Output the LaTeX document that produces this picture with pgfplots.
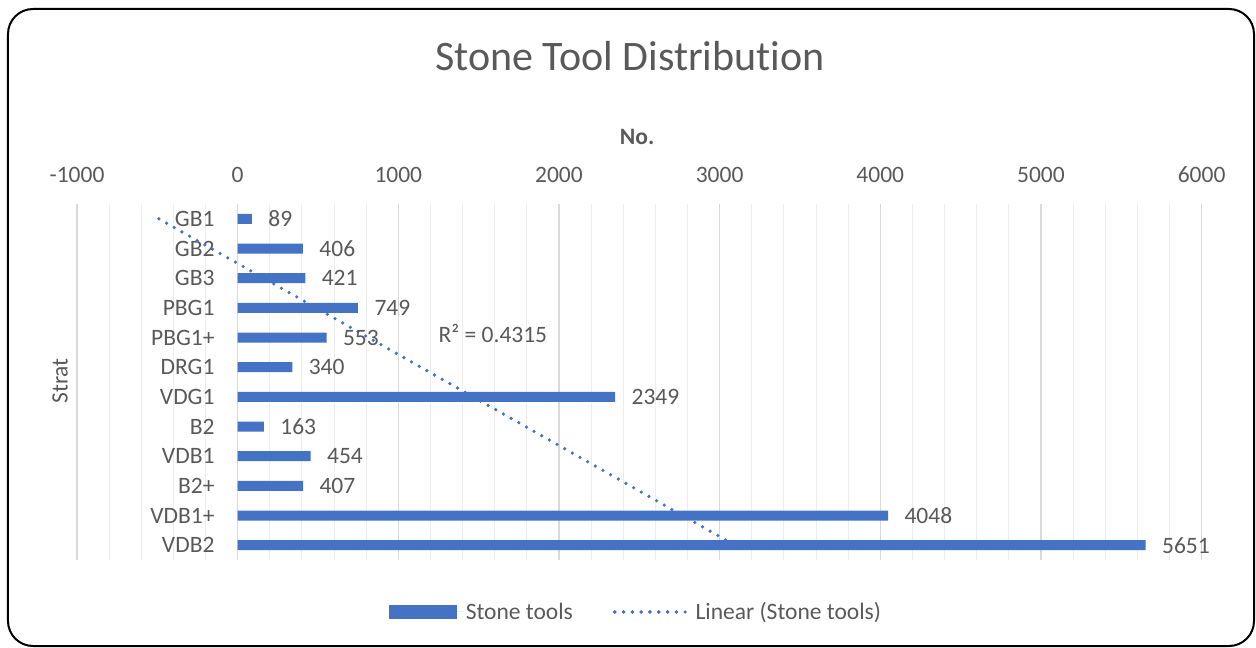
\documentclass[border=0pt]{standalone}
\usepackage{fontspec}
\setmainfont{Carlito}[Ligatures=NoCommon]
\usepackage{pgfplots}
\pgfplotsset{compat=1.18}
\definecolor{barblue}{HTML}{4472C4}
\definecolor{txtgray}{HTML}{595959}
\definecolor{majgrid}{HTML}{D9D9D9}
\definecolor{mingrid}{HTML}{EDEDED}

\pgfplotstableread{
idx val
1 89
2 406
3 421
4 749
5 553
6 340
7 2349
8 163
9 454
10 407
11 4048
12 5651
}\stonetools

% linear trendline (least squares over category index 1..12)
\pgfplotstableread{
x idx
-490.3 1
3095.3 12
}\trend

\begin{document}
\begin{tikzpicture}[x=1pt,y=1pt]
\begin{axis}[
  scale only axis,
  width=1124.7pt, height=356pt,
  xmin=-1000, xmax=6000,
  ymin=0.5, ymax=12.5, y dir=reverse,
  xtick={-1000,0,...,6000},
  xticklabels={-1000,0,1000,2000,3000,4000,5000,6000},
  minor x tick num=4,
  xticklabel pos=upper,
  ytick={1,...,12},
  yticklabels={GB1,GB2,GB3,PBG1,PBG1+,DRG1,VDG1,B2,VDB1,B2+,VDB1+,VDB2},
  major tick length=0pt, minor tick length=0pt,
  axis line style={draw=none},
  xmajorgrids, xminorgrids,
  major grid style={majgrid,line width=1.5pt},
  minor grid style={mingrid,line width=1pt},
  tick label style={font=\fontsize{23.5}{28}\selectfont, text=txtgray},
  xticklabel style={yshift=18pt},
  yticklabel style={anchor=east, xshift=141pt},
  /pgf/number format/.cd, 1000 sep={}, assume math mode=true, /pgfplots/.cd,
  title={Stone Tool Distribution},
  title style={at={(axis description cs:0.4917,1.399)}, anchor=center,
    font=\fontsize{42}{50}\selectfont, text=txtgray},
  xlabel={No.},
  xlabel style={at={(axis description cs:0.498,1.188)}, anchor=center,
    font=\fontsize{23.5}{28}\selectfont\bfseries, text=txtgray},
  ylabel={Strat},
  ylabel style={at={(axis description cs:-0.0151,0.503)}, anchor=center,
    font=\fontsize{23.5}{28}\selectfont, text=txtgray},
  legend columns=2,
  legend style={at={(axis description cs:0.497,-0.146)}, anchor=center,
    draw=none, fill=none,
    font=\fontsize{23.5}{28}\selectfont, text=txtgray,
    /tikz/every even column/.append style={column sep=38pt}},
]
\addplot[xbar, bar width=10pt, fill=barblue, draw=none,
  nodes near coords,
  nodes near coords style={anchor=west, xshift=13pt,
    font=\fontsize{23.5}{28}\selectfont, text=txtgray},
  legend image code/.code={\fill[barblue] (0pt,-7pt) rectangle (68pt,7pt);
    \path (0pt,0pt) -- (75pt,0pt);}]
  table[x=val, y=idx] {\stonetools};
\addlegendentry{Stone tools}
\addplot[barblue, line width=3.6pt, line cap=round,
  dash pattern=on 0pt off 8.8pt,
  legend image code/.code={\draw[barblue, line width=3.6pt, line cap=round,
    dash pattern=on 0pt off 8.8pt] (0pt,0pt) -- (70pt,0pt);
    \path (0pt,0pt) -- (77pt,0pt);}]
  table[x=x, y=idx] {\trend};
\addlegendentry{Linear (Stone tools)}
\node[anchor=west, inner sep=0pt, text=txtgray, font=\fontsize{23.5}{28}\selectfont]
  at (axis cs:1250,4.85) {R² = 0.4315};
\end{axis}
\draw[black, line width=2pt, rounded corners=25pt] (-69,551) rectangle (1177,-86);
\pgfresetboundingbox
\useasboundingbox (-77,560) rectangle (1179,-88);
\end{tikzpicture}
\end{document}
